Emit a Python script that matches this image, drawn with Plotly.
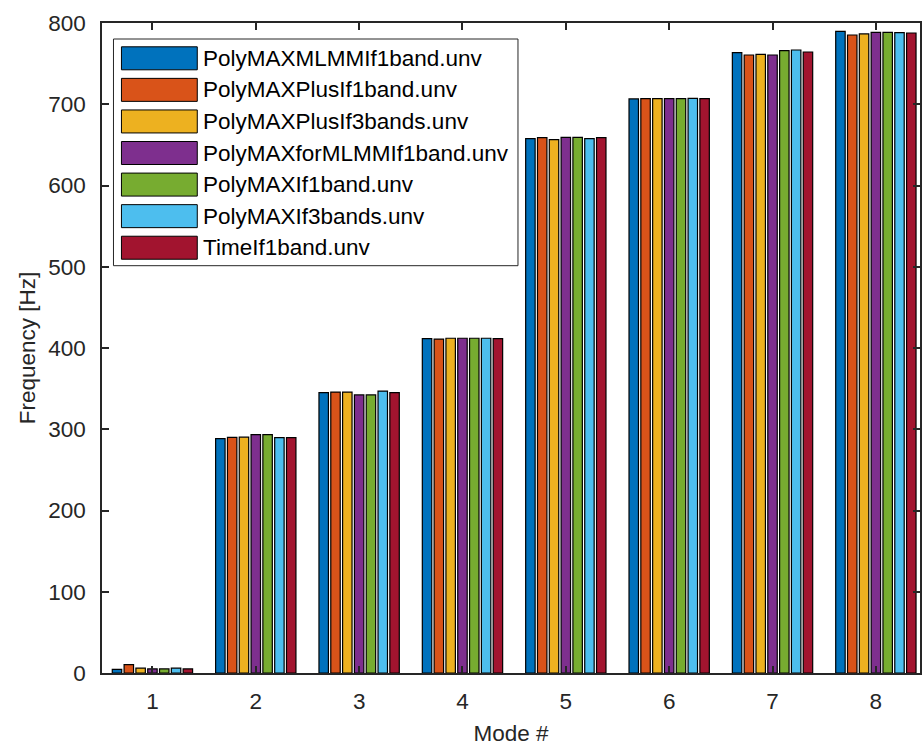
import plotly.graph_objects as go

modes = [1, 2, 3, 4, 5, 6, 7, 8]
series_names = [
    "PolyMAXMLMMIf1band.unv",
    "PolyMAXPlusIf1band.unv",
    "PolyMAXPlusIf3bands.unv",
    "PolyMAXforMLMMIf1band.unv",
    "PolyMAXIf1band.unv",
    "PolyMAXIf3bands.unv",
    "TimeIf1band.unv",
]
colors = ["#0072BD", "#D95319", "#EDB120", "#7E2F8E", "#77AC30", "#4DBEEE", "#A2142F"]

s_polymaxmlmm_1 = [4.5, 288.5, 345.1, 411.6, 657.7, 706.5, 763.6, 789.8]
s_plus_1 = [10.3, 290.0, 345.8, 411.0, 659.0, 707.0, 760.6, 785.2]
s_plus_3 = [6.0, 290.3, 345.8, 412.0, 656.5, 707.0, 761.5, 786.5]
s_formlmm_1 = [5.0, 293.4, 342.2, 412.0, 659.3, 707.0, 760.6, 788.5]
s_polymax_1 = [5.0, 293.4, 342.2, 412.0, 659.3, 707.0, 766.0, 788.5]
s_polymax_3 = [6.0, 289.7, 347.0, 412.0, 657.7, 707.3, 766.8, 788.1]
s_time_1 = [5.0, 289.7, 345.1, 411.6, 659.0, 707.0, 764.3, 787.7]

series_values = [s_polymaxmlmm_1, s_plus_1, s_plus_3, s_formlmm_1,
                 s_polymax_1, s_polymax_3, s_time_1]

y_ticks = [0, 100, 200, 300, 400, 500, 600, 700, 800]

FONT = "Arial, Liberation Sans, Helvetica, sans-serif"
TXT = "#262626"

fig = go.Figure()
for name, vals, col in zip(series_names, series_values, colors):
    fig.add_trace(go.Bar(
        x=modes, y=vals, name=name,
        marker=dict(color=col, line=dict(color="black", width=1.2)),
        showlegend=False,
    ))

W, H = 923, 749
ml, mr, mt, mb = 102, 1, 23, 76
pw, ph = W - ml - mr, H - mt - mb


def px2paper(x, y):
    return (x - ml) / pw, (H - mb - y) / ph


# custom MATLAB-like legend
shapes = []
annotations = []
x0, y0 = px2paper(113.5, 39)
x1, y1 = px2paper(519, 265.7)
shapes.append(dict(type="rect", xref="paper", yref="paper", x0=x0, y0=y1, x1=x1, y1=y0,
                   line=dict(color="#262626", width=1), fillcolor="white", layer="above"))
row0, pitch = 58.3, 31.57
for i, (name, col) in enumerate(zip(series_names, colors)):
    cy = row0 + i * pitch
    a0, b0 = px2paper(121.5, cy - 11.5)
    a1, b1 = px2paper(197.5, cy + 11.5)
    shapes.append(dict(type="rect", xref="paper", yref="paper", x0=a0, y0=b1, x1=a1, y1=b0,
                       line=dict(color="black", width=1), fillcolor=col, layer="above"))
    tx, ty = px2paper(201, cy)
    annotations.append(dict(xref="paper", yref="paper", x=tx, y=ty, text=name,
                            showarrow=False, xanchor="left", yanchor="middle",
                            font=dict(family=FONT, size=22.5, color="black")))

fig.update_layout(
    width=W, height=H,
    margin=dict(l=ml, r=mr, t=mt, b=mb, pad=0),
    paper_bgcolor="white", plot_bgcolor="white",
    barmode="group", bargap=0.2, bargroupgap=0.2,
    font=dict(family=FONT, size=22.5, color=TXT),
    shapes=shapes, annotations=annotations,
    xaxis=dict(
        range=[0.512, 8.427], tickmode="array", tickvals=modes,
        ticktext=[str(m) for m in modes],
        showline=True, linecolor=TXT, linewidth=1.5, mirror="ticks",
        ticks="inside", ticklen=7, tickwidth=1.5, tickcolor=TXT,
        showgrid=False, zeroline=False, ticklabelstandoff=7,
        title=dict(text="Mode #", standoff=12, font=dict(size=22.5, color=TXT)),
    ),
    yaxis=dict(
        range=[0, 800], tickmode="array", tickvals=y_ticks,
        showline=True, linecolor=TXT, linewidth=1.5, mirror="ticks",
        ticks="inside", ticklen=7, tickwidth=1.5, tickcolor=TXT,
        showgrid=False, zeroline=False, ticklabelstandoff=10,
        title=dict(text="Frequency [Hz]", standoff=6, font=dict(size=22.5, color=TXT)),
    ),
)

fig.write_html("out.html")
